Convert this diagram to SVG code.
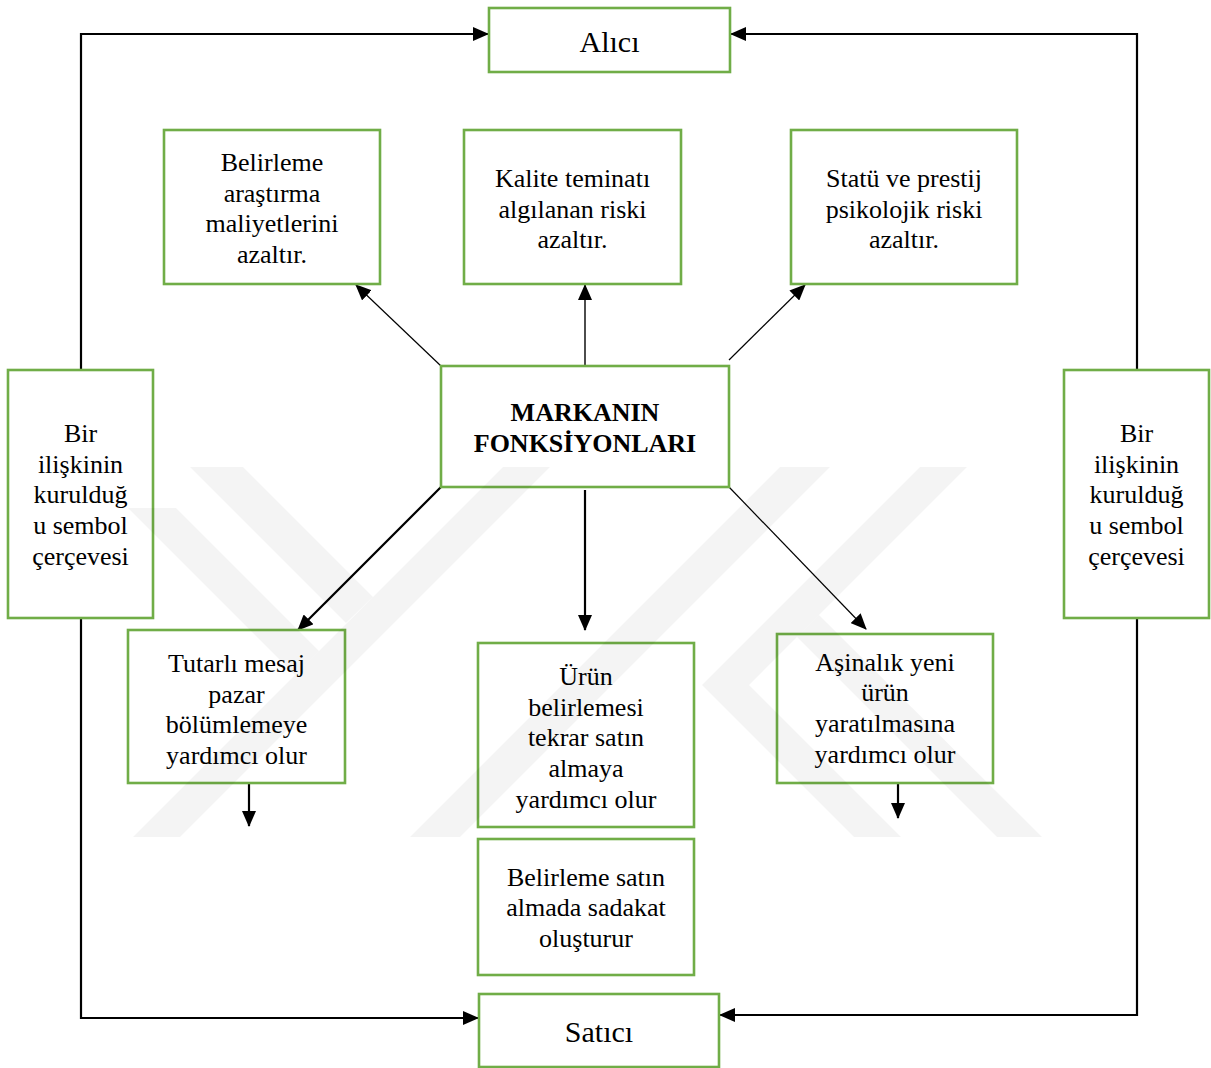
<svg xmlns="http://www.w3.org/2000/svg" width="1211" height="1068" viewBox="0 0 1211 1068">
<style>
.box{fill:#fff;stroke:#70ad47;stroke-width:2.6}
.t{font-family:"Liberation Serif","Times New Roman",serif;font-size:26px;fill:#000;text-anchor:middle}
.big{font-size:30px}
.b{font-weight:bold}
.c{fill:none;stroke:#000}
.w{fill:#000;fill-opacity:0.045}
</style>
<defs>
<marker id="ah" markerUnits="userSpaceOnUse" markerWidth="16" markerHeight="14" refX="15" refY="7" orient="auto">
<path d="M0,0 L16,7 L0,14 Z" fill="#000"/>
</marker>
</defs>
<rect width="1211" height="1068" fill="#fff"/>
<g id="connectors">
<polyline class="c" stroke-width="2.2" points="81,370 81,34 488,34" marker-end="url(#ah)"/>
<polyline class="c" stroke-width="2.2" points="81,618 81,1018 478,1018" marker-end="url(#ah)"/>
<polyline class="c" stroke-width="2.2" points="1137,370 1137,34 731,34" marker-end="url(#ah)"/>
<polyline class="c" stroke-width="2.2" points="1137,618 1137,1015 720,1015" marker-end="url(#ah)"/>
<line class="c" stroke-width="1.2" x1="441" y1="366" x2="356" y2="285" marker-end="url(#ah)"/>
<line class="c" stroke-width="1.4" x1="585" y1="368" x2="585" y2="285" marker-end="url(#ah)"/>
<line class="c" stroke-width="1.2" x1="729" y1="360" x2="805" y2="285" marker-end="url(#ah)"/>
<line class="c" stroke-width="2.2" x1="441" y1="487" x2="298" y2="630" marker-end="url(#ah)"/>
<line class="c" stroke-width="2.2" x1="585" y1="490" x2="585" y2="630" marker-end="url(#ah)"/>
<line class="c" stroke-width="1.2" x1="729" y1="487" x2="866" y2="629" marker-end="url(#ah)"/>
<line class="c" stroke-width="2.2" x1="249" y1="783" x2="249" y2="826" marker-end="url(#ah)"/>
<line class="c" stroke-width="2.2" x1="898" y1="783" x2="898" y2="818" marker-end="url(#ah)"/>
</g>
<g id="alici"><rect class="box" x="489" y="8" width="241" height="64"/><text class="t big" x="609.5" y="52">Alıcı</text></g>
<g id="satici"><rect class="box" x="479" y="994" width="240" height="73"/><text class="t big" x="599" y="1042">Satıcı</text></g>
<g id="belirleme-arastirma"><rect class="box" x="164" y="130" width="216" height="154"/>
<text class="t" x="272" y="171">Belirleme</text><text class="t" x="272" y="201.7">araştırma</text><text class="t" x="272" y="232.3">maliyetlerini</text><text class="t" x="272" y="263">azaltır.</text></g>
<g id="kalite"><rect class="box" x="464" y="130" width="217" height="154"/>
<text class="t" x="572.5" y="187">Kalite teminatı</text><text class="t" x="572.5" y="217.7">algılanan riski</text><text class="t" x="572.5" y="248.3">azaltır.</text></g>
<g id="statu"><rect class="box" x="791" y="130" width="226" height="154"/>
<text class="t" x="904" y="187">Statü ve prestij</text><text class="t" x="904" y="217.7">psikolojik riski</text><text class="t" x="904" y="248.3">azaltır.</text></g>
<g id="merkez"><rect class="box" x="441" y="366" width="288" height="121"/>
<text class="t b" x="585" y="421">MARKANIN</text><text class="t b" x="585" y="452">FONKSİYONLARI</text></g>
<g id="sembol-sol"><rect class="box" x="8" y="370" width="145" height="248"/>
<text class="t" x="80.5" y="442">Bir</text><text class="t" x="80.5" y="472.7">ilişkinin</text><text class="t" x="80.5" y="503.4">kurulduğ</text><text class="t" x="80.5" y="534">u sembol</text><text class="t" x="80.5" y="564.7">çerçevesi</text></g>
<g id="sembol-sag"><rect class="box" x="1064" y="370" width="145" height="248"/>
<text class="t" x="1136.5" y="442">Bir</text><text class="t" x="1136.5" y="472.7">ilişkinin</text><text class="t" x="1136.5" y="503.4">kurulduğ</text><text class="t" x="1136.5" y="534">u sembol</text><text class="t" x="1136.5" y="564.7">çerçevesi</text></g>
<g id="tutarli"><rect class="box" x="128" y="630" width="217" height="153"/>
<text class="t" x="236.5" y="672">Tutarlı mesaj</text><text class="t" x="236.5" y="702.7">pazar</text><text class="t" x="236.5" y="733.4">bölümlemeye</text><text class="t" x="236.5" y="764">yardımcı olur</text></g>
<g id="urun"><rect class="box" x="478" y="643" width="216" height="184"/>
<text class="t" x="586" y="685">Ürün</text><text class="t" x="586" y="715.7">belirlemesi</text><text class="t" x="586" y="746.4">tekrar satın</text><text class="t" x="586" y="777">almaya</text><text class="t" x="586" y="807.7">yardımcı olur</text></g>
<g id="asinalik"><rect class="box" x="777" y="634" width="216" height="149"/>
<text class="t" x="885" y="670.5">Aşinalık yeni</text><text class="t" x="885" y="701.2">ürün</text><text class="t" x="885" y="731.9">yaratılmasına</text><text class="t" x="885" y="762.5">yardımcı olur</text></g>
<g id="sadakat"><rect class="box" x="478" y="839" width="216" height="136"/>
<text class="t" x="586" y="885.5">Belirleme satın</text><text class="t" x="586" y="916.2">almada sadakat</text><text class="t" x="586" y="946.9">oluşturur</text></g>
<g id="watermark">
<polygon class="w" points="190,467 243,467 373,597 346,623"/>
<polygon class="w" points="128,508 176,508 319,651 295,675"/>
<polygon class="w" points="133,837 180,837 550,467 503,467"/>
<polygon class="w" points="410,837 460,837 830,467 780,467"/>
<polygon class="w" points="920,467 967,467 749,685 901,837 854,837 702,685"/>
<polygon class="w" points="819,615 1042,837 997,837 797,637"/>
</g>
</svg>
